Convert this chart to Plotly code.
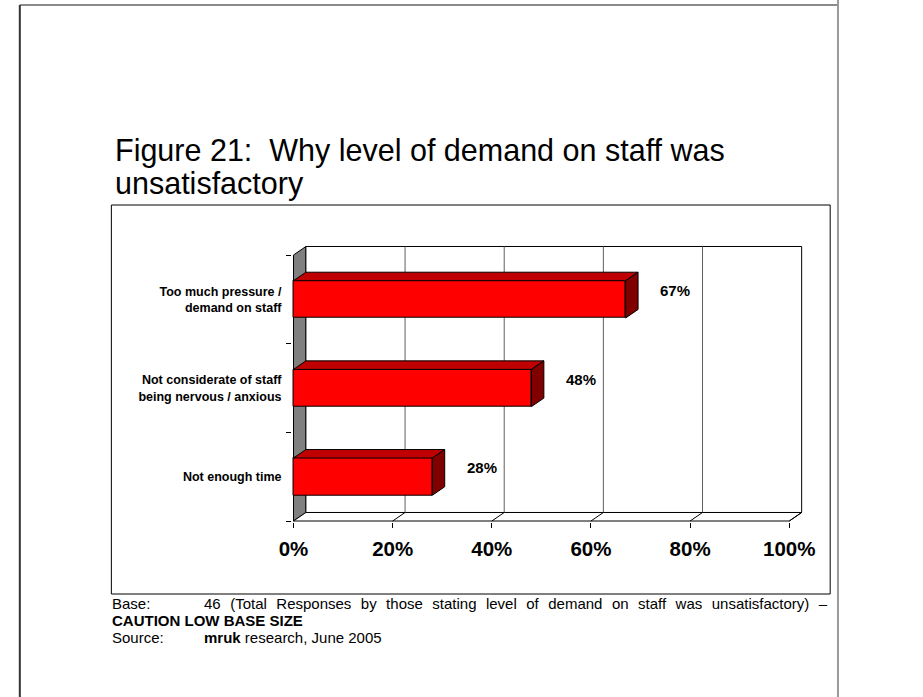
import plotly.graph_objects as go

# ---- data -------------------------------------------------------------
categories = [
    "Too much pressure /<br>demand on staff",
    "Not considerate of staff<br>being nervous / anxious",
    "Not enough time",
]
values = [67, 48, 28]
x_ticks = [0, 20, 40, 60, 80, 100]
x_tick_labels = ["0%", "20%", "40%", "60%", "80%", "100%"]
value_labels = [f"{v}%" for v in values]

title_lines = ["Figure 21:  Why level of demand on staff was", "unsatisfactory"]
base_text = "46 (Total Responses by those stating level of demand on staff was unsatisfactory) \u2013"
caution_text = "CAUTION LOW BASE SIZE"
source_text = "<b>mruk</b> research, June 2005"

# ---- page geometry ------------------------------------------------------
W, H = 923, 697
FONT = "Arial, Liberation Sans, sans-serif"

# depth of the pseudo-3D box, in axis units
DX = 2.5      # percent units
DY = 0.096    # category units
BAR_W = 0.42

n = len(categories)
order_bottom_up = categories[::-1]
pos = {c: n - 1 - j for j, c in enumerate(categories)}


def px(x):
    return x / W


def py(y):
    return 1 - y / H


# pixel placement of plot area (front plane: 0% at x=288, 100% at x=797)
k = (797 - 288) / 100.0          # px per percent
m = (521 - 255) / 3.0            # px per category
x_lo, x_hi = -0.4, 100 + DX + 0.4
y_lo, y_hi = -0.5 - 0.015, 2.5 + DY + 0.02
dom_x = [px(288 + k * x_lo), px(288 + k * x_hi)]
dom_y = [py(521 - m * (y_lo + 0.5)), py(521 - m * (y_hi + 0.5))]

fig = go.Figure()

fig.add_trace(go.Bar(
    y=categories,
    x=values,
    orientation="h",
    width=BAR_W,
    marker=dict(color="#FF0000", line=dict(color="black", width=1)),
    hoverinfo="skip",
    showlegend=False,
))

shapes = []
line_k = dict(color="black", width=1)

# left side wall
shapes.append(dict(
    type="path", xref="x", yref="y", layer="below",
    path=f"M 0,-0.5 L {DX},{-0.5 + DY} L {DX},{2.5 + DY} L 0,2.5 Z",
    fillcolor="#808080", line=line_k,
))
# back wall
shapes.append(dict(
    type="rect", xref="x", yref="y", layer="below",
    x0=DX, x1=100 + DX, y0=-0.5 + DY, y1=2.5 + DY,
    fillcolor="white", line=line_k,
))
# floor
shapes.append(dict(
    type="path", xref="x", yref="y", layer="below",
    path=f"M 0,-0.5 L 100,-0.5 L {100 + DX},{-0.5 + DY} L {DX},{-0.5 + DY} Z",
    fillcolor="white", line=line_k,
))
# gridlines on the back wall and the floor
for v in x_ticks[1:-1]:
    shapes.append(dict(
        type="line", xref="x", yref="y", layer="below",
        x0=v + DX, x1=v + DX, y0=-0.5 + DY, y1=2.5 + DY,
        line=dict(color="#606060", width=1),
    ))
for v in x_ticks[1:]:
    shapes.append(dict(
        type="line", xref="x", yref="y", layer="below",
        x0=v, x1=v + DX, y0=-0.5, y1=-0.5 + DY,
        line=line_k,
    ))

# top and end faces of each bar
for c, v in zip(categories, values):
    i = pos[c]
    t, b = i + BAR_W / 2, i - BAR_W / 2
    shapes.append(dict(
        type="path", xref="x", yref="y", layer="above",
        path=f"M 0,{t} L {DX},{t + DY} L {v + DX},{t + DY} L {v},{t} Z",
        fillcolor="#C00000", line=line_k,
    ))
    shapes.append(dict(
        type="path", xref="x", yref="y", layer="above",
        path=f"M {v},{b} L {v},{t} L {v + DX},{t + DY} L {v + DX},{b + DY} Z",
        fillcolor="#800000", line=line_k,
    ))

# chart frame
shapes.append(dict(
    type="rect", xref="paper", yref="paper",
    x0=px(101), x1=px(839), y0=py(205), y1=py(594),
    line=line_k, fillcolor="rgba(0,0,0,0)", layer="below",
))
# page edges
shapes.append(dict(type="line", xref="paper", yref="paper",
                   x0=px(7), x1=px(847), y0=py(5), y1=py(5),
                   line=dict(color="#8a8a8a", width=2)))
shapes.append(dict(type="line", xref="paper", yref="paper",
                   x0=px(7), x1=px(7), y0=py(5), y1=py(H + 2),
                   line=dict(color="#333333", width=2)))
shapes.append(dict(type="line", xref="paper", yref="paper",
                   x0=px(847), x1=px(847), y0=py(0), y1=py(H + 2),
                   line=dict(color="#9a9a9a", width=2)))

annotations = []
# value labels beside each bar
for c, v, lab in zip(categories, values, value_labels):
    annotations.append(dict(
        x=v + DX + 4.1, y=pos[c] + 0.1, xref="x", yref="y",
        text=f"<b>{lab}</b>", showarrow=False, xanchor="left", yanchor="middle",
        font=dict(family=FONT, size=15, color="black"),
    ))

# title
title_font = dict(family=FONT, size=30.5, color="black")
annotations.append(dict(x=px(103), y=py(150), xref="paper", yref="paper",
                        text=title_lines[0], showarrow=False,
                        xanchor="left", yanchor="middle", font=title_font))
annotations.append(dict(x=px(103), y=py(184), xref="paper", yref="paper",
                        text=title_lines[1], showarrow=False,
                        xanchor="left", yanchor="middle", font=title_font))

# footnotes (first line is justified to the frame width)
foot = dict(family=FONT, size=15, color="black")
annotations.append(dict(x=px(100), y=py(603), xref="paper", yref="paper",
                        text="Base:", showarrow=False,
                        xanchor="left", yanchor="middle", font=foot))
annotations.append(dict(x=px(194), y=py(603), xref="paper", yref="paper",
                        text=f'<span style="word-spacing:5.3px">{base_text}</span>',
                        showarrow=False,
                        xanchor="left", yanchor="middle", font=foot))
annotations.append(dict(x=px(100), y=py(620), xref="paper", yref="paper",
                        text=f"<b>{caution_text}</b>", showarrow=False,
                        xanchor="left", yanchor="middle", font=foot))
annotations.append(dict(x=px(100), y=py(637), xref="paper", yref="paper",
                        text="Source:", showarrow=False,
                        xanchor="left", yanchor="middle", font=foot))
annotations.append(dict(x=px(194), y=py(637), xref="paper", yref="paper",
                        text=source_text, showarrow=False,
                        xanchor="left", yanchor="middle", font=foot))

fig.update_layout(
    width=W, height=H,
    margin=dict(l=0, r=0, t=0, b=0),
    paper_bgcolor="white",
    plot_bgcolor="rgba(0,0,0,0)",
    bargap=0,
    shapes=shapes,
    annotations=annotations,
    xaxis=dict(
        domain=dom_x, range=[x_lo, x_hi],
        tickmode="array", tickvals=x_ticks, ticktext=x_tick_labels,
        ticks="outside", ticklen=5, tickcolor="black", tickwidth=1,
        ticklabelstandoff=3,
        showgrid=False, zeroline=False, showline=False,
        tickfont=dict(family=FONT, size=20.5, color="black", weight="bold"),
        fixedrange=True,
    ),
    yaxis=dict(
        domain=dom_y, range=[y_lo, y_hi],
        type="category", categoryorder="array", categoryarray=order_bottom_up,
        tickson="boundaries",
        ticks="outside", ticklen=5, tickcolor="black", tickwidth=1,
        ticklabelstandoff=9,
        showgrid=False, zeroline=False, showline=False,
        tickfont=dict(family=FONT, size=12.5, color="black", weight="bold"),
        fixedrange=True,
    ),
)

fig.write_html("out.html")
